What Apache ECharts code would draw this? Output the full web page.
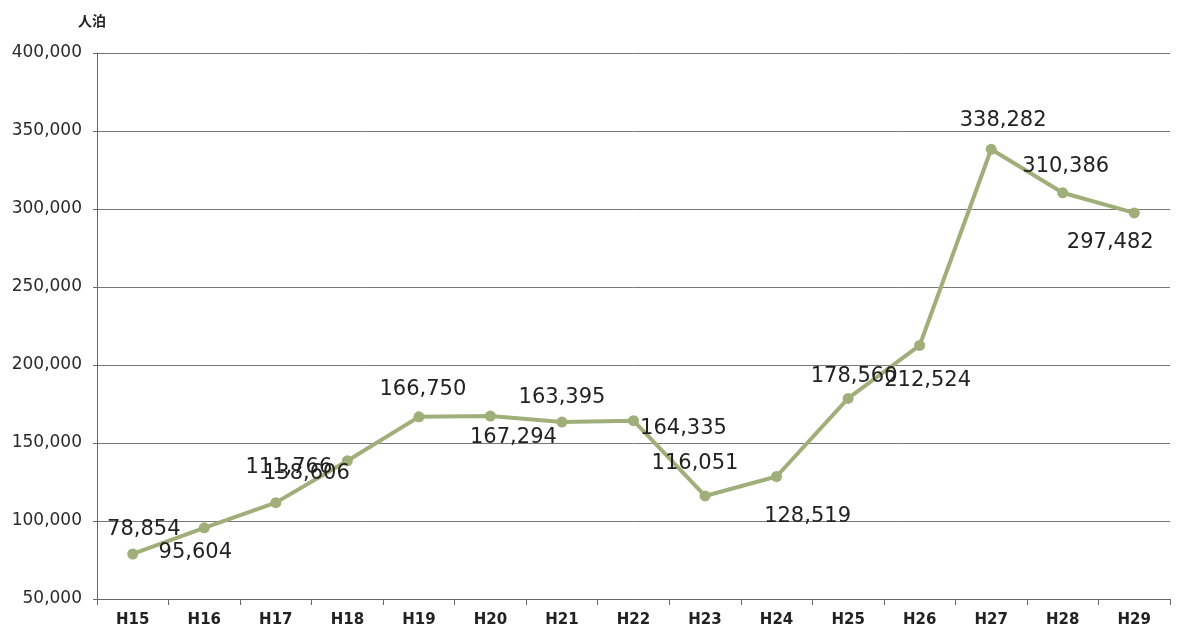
<!DOCTYPE html>
<html><head><meta charset="utf-8">
<script src="https://cdn.jsdelivr.net/npm/echarts@6/dist/echarts.min.js"></script>
<style>html,body{margin:0;padding:0;background:#fff}#c{width:1182px;height:635px}</style>
</head><body><div id="c"></div>
<script>
const categories = ['H15','H16','H17','H18','H19','H20','H21','H22','H23','H24','H25','H26','H27','H28','H29'];
const values = [78854, 95604, 111766, 138606, 166750, 167294, 163395, 164335, 116051, 128519, 178560, 212524, 338282, 310386, 297482];
const unitLabel = '人泊';
const yMin = 50000, yMax = 400000, yStep = 50000;

// label placement offsets (px) relative to each point
const labelOffsets = [[11,-24],[-9,25],[13,-35],[-41,13],[4,-27],[23,22],[0,-25],[50,8],[-10,-32],[31,40],[6,-22],[8,35],[12,-29],[3,-26],[-24,30]];

const fmt = v => v.toLocaleString('en-US');
const chart = echarts.init(document.getElementById('c'));
chart.setOption({
  backgroundColor: '#ffffff',
  animation: false,
  grid: {left: 97, right: 12, top: 53, bottom: 36},
  xAxis: {
    type: 'category', data: categories, boundaryGap: true,
    axisLine: {lineStyle: {color: '#666', width: 1}},
    axisTick: {show: true, interval: 0, length: 6, lineStyle: {color: '#666'}},
    axisLabel: {color: '#222', fontFamily: 'DejaVu Sans', fontWeight: 'bold', fontSize: 15, margin: 14}
  },
  yAxis: {
    type: 'value', min: yMin, max: yMax, interval: yStep,
    name: unitLabel, nameLocation: 'end', nameGap: 25,
    nameTextStyle: {color: '#222', fontFamily: 'Noto Sans CJK JP', fontWeight: 'bold', fontSize: 14, align: 'center', padding: [0, 10, 0, 0]},
    axisLine: {show: true, lineStyle: {color: '#666', width: 1}},
    axisTick: {show: true, length: 4, lineStyle: {color: '#666'}},
    splitLine: {lineStyle: {color: '#777', width: 1}},
    axisLabel: {color: '#2a2a2a', fontFamily: 'DejaVu Sans', fontSize: 17, margin: 15, formatter: v => fmt(v)}
  },
  series: [{
    type: 'line',
    data: values.map((v, i) => ({
      value: v,
      label: {show: true, position: 'inside', offset: labelOffsets[i]}
    })),
    symbol: 'circle', symbolSize: 11,
    lineStyle: {color: '#a0af7a', width: 4},
    itemStyle: {color: '#a0af7a'},
    label: {show: true, color: '#222', fontFamily: 'DejaVu Sans', fontSize: 21, formatter: p => fmt(p.value)},
    z: 3
  }]
});
</script></body></html>
